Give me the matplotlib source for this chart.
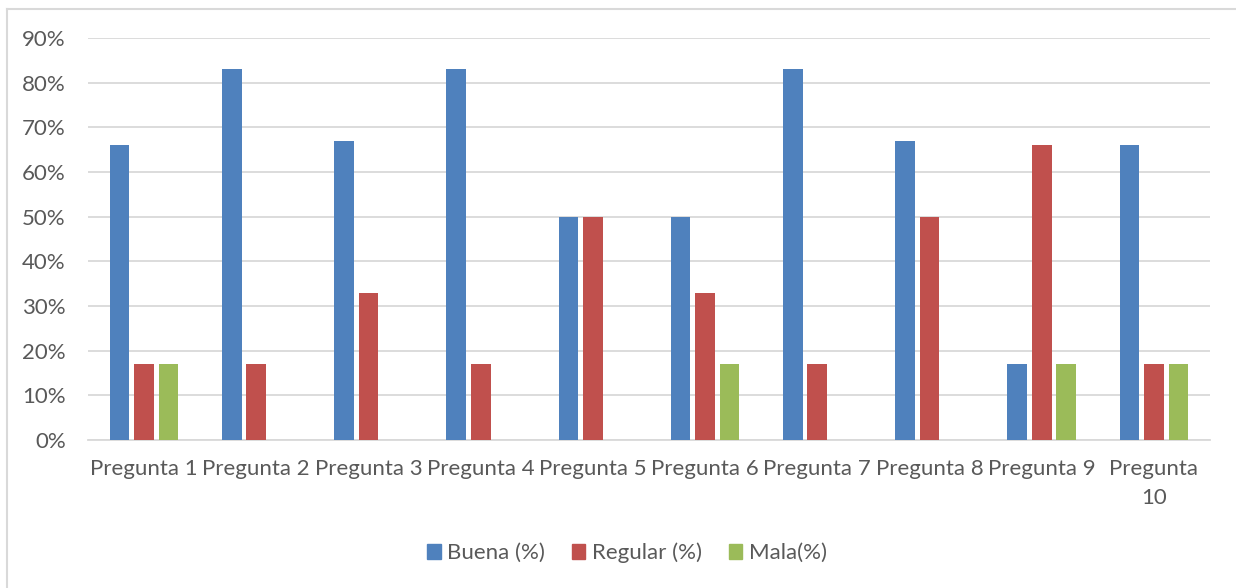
import matplotlib.pyplot as plt
import numpy as np
from matplotlib.lines import Line2D
from matplotlib.ticker import FuncFormatter

# data (percent)
preguntas = ["Pregunta 1", "Pregunta 2", "Pregunta 3", "Pregunta 4", "Pregunta 5",
             "Pregunta 6", "Pregunta 7", "Pregunta 8", "Pregunta 9", "Pregunta\n10"]
buena = [66, 83, 67, 83, 50, 50, 83, 67, 17, 66]
regular = [17, 17, 33, 17, 50, 33, 17, 50, 66, 17]
mala = [17, 0, 0, 0, 0, 17, 0, 0, 17, 17]
series_names = ["Buena (%)", "Regular (%)", "Mala(%)"]
colors = ["#4F81BD", "#C0504D", "#9BBB59"]

plt.rcParams["font.family"] = ["Lato", "DejaVu Sans"]
text_color = "#595959"
fs = 16

W, H = 1236, 588
fig = plt.figure(figsize=(W / 100, H / 100), dpi=100)
ax = fig.add_axes([88 / W, 1 - 440 / H, (1210 - 88) / W, (440 - 38) / H])

x = np.arange(len(preguntas))
width = 0.175
step = 0.218
for i, (vals, name, c) in enumerate(zip([buena, regular, mala], series_names, colors)):
    ax.bar(x + (i - 1) * step, vals, width, color=c, label=name, zorder=3)

ax.set_xlim(-0.5, len(preguntas) - 0.5)
ax.set_ylim(0, 90)
ax.set_yticks(np.arange(0, 91, 10))
ax.yaxis.set_major_formatter(FuncFormatter(lambda v, p: f"{int(v)}%"))
ax.set_xticks(x, preguntas)
ax.grid(axis="y", color="#D9D9D9", linewidth=1.3, zorder=0)
for s in ["top", "right", "left"]:
    ax.spines[s].set_visible(False)
ax.spines["bottom"].set_color("#D9D9D9")
ax.spines["bottom"].set_linewidth(1.3)
ax.tick_params(axis="both", length=0, labelsize=fs, colors=text_color)
ax.tick_params(axis="x", pad=14)
ax.tick_params(axis="y", pad=16)
for lab in ax.get_xticklabels():
    lab.set_linespacing(1.55)

handles = [plt.Rectangle((0, 0), 1, 1, color=c) for c in colors]
fig.legend(handles, series_names, loc="center", bbox_to_anchor=(627 / W, 1 - 553 / H),
           ncol=3, frameon=False, fontsize=fs, labelcolor=text_color,
           handlelength=0.6, handleheight=0.6, handletextpad=0.3, columnspacing=1.2)

# outer chart frame (top and left edges visible)
fig.add_artist(Line2D([7 / W, 7 / W], [0, 1 - 9 / H], color="#D9D9D9", lw=1.5,
                      transform=fig.transFigure))
fig.add_artist(Line2D([7 / W, 1], [1 - 9 / H, 1 - 9 / H], color="#D9D9D9", lw=1.5,
                      transform=fig.transFigure))

fig.savefig("out.png", dpi=100)
